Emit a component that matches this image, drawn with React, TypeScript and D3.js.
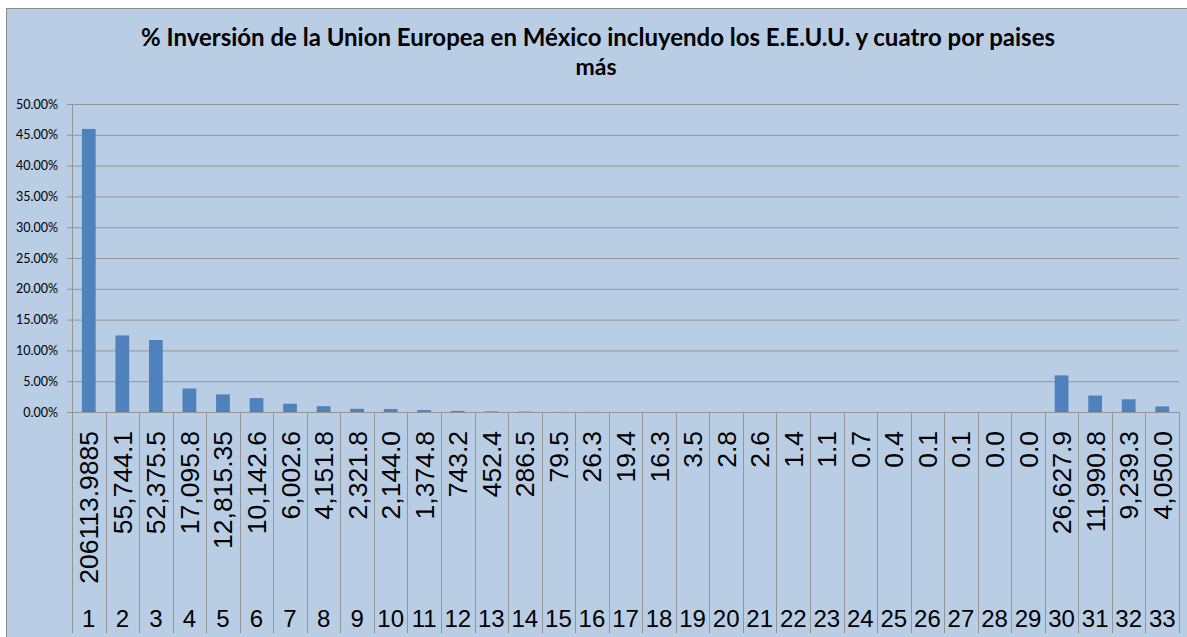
import * as d3 from "d3";

const categories = [
  "1", "2", "3", "4", "5", "6", "7", "8", "9", "10", "11", "12", "13", "14", "15", "16", "17",
  "18", "19", "20", "21", "22", "23", "24", "25", "26", "27", "28", "29", "30", "31", "32", "33",
];

// value printed under each bar
const valueLabels = [
  "206113.9885", "55,744.1", "52,375.5", "17,095.8", "12,815.35", "10,142.6", "6,002.6",
  "4,151.8", "2,321.8", "2,144.0", "1,374.8", "743.2", "452.4", "286.5", "79.5", "26.3",
  "19.4", "16.3", "3.5", "2.8", "2.6", "1.4", "1.1", "0.7", "0.4", "0.1", "0.1", "0.0",
  "0.0", "26,627.9", "11,990.8", "9,239.3", "4,050.0",
];

// bar heights (share)
const shares = [
  0.4595, 0.1243, 0.1168, 0.0381, 0.0286, 0.0226, 0.0134, 0.0093, 0.0052, 0.0048, 0.0031,
  0.0017, 0.001, 0.0006, 0.0002, 0.0001, 0, 0, 0, 0, 0, 0, 0, 0, 0, 0, 0, 0, 0, 0.0594,
  0.0267, 0.0206, 0.009,
];

const yTicks = [0, 0.05, 0.1, 0.15, 0.2, 0.25, 0.3, 0.35, 0.4, 0.45, 0.5];

const titleLines = [
  "% Inversión de la Union Europea en México incluyendo los E.E.U.U. y cuatro por paises",
  "más",
];

export default function App() {
  const width = 1187;
  const height = 637;
  const left = 72;
  const right = 1179;
  const top = 104;
  const bottom = 412;
  const catBottom = 633;

  const x = d3.scaleBand<string>().domain(categories).range([left, right]).padding(0);
  const y = d3.scaleLinear().domain([0, 0.5]).range([bottom, top]);
  const fmt = d3.format(".2%");
  const bw = x.bandwidth() * 0.41;
  const grid = "#959595";

  return (
    <svg
      width={width}
      height={height}
      style={{ position: "absolute", left: 0, top: 0, display: "block" }}
    >
      <rect x={0} y={0} width={width} height={height} fill="#ffffff" />
      <rect
        x={6.5}
        y={8.5}
        width={width + 20}
        height={height + 20}
        fill="#B9CDE5"
        stroke="#8c8c8c"
        strokeWidth={1}
      />

      {/* title */}
      <text
        x={598}
        y={46}
        textAnchor="middle"
        textLength={914}
        lengthAdjust="spacingAndGlyphs"
        style={{ fontFamily: "Lato", fontWeight: 700, fontSize: "24.5px", fill: "#000" }}
      >
        {titleLines[0]}
      </text>
      <text
        x={596}
        y={75}
        textAnchor="middle"
        style={{ fontFamily: "Lato", fontWeight: 700, fontSize: "23px", fill: "#000" }}
      >
        {titleLines[1]}
      </text>

      {/* gridlines + y ticks */}
      {yTicks.map((t) => (
        <g key={t}>
          <line x1={left} x2={right} y1={y(t) + 0.5} y2={y(t) + 0.5} stroke={grid} />
          <line x1={left - 5} x2={left} y1={y(t) + 0.5} y2={y(t) + 0.5} stroke={grid} />
          <text
            x={58}
            y={y(t) + 4.5}
            textAnchor="end"
            style={{ fontFamily: "Lato", fontSize: "12.5px", fill: "#000" }}
          >
            {fmt(t)}
          </text>
        </g>
      ))}
      <line x1={left + 0.5} x2={left + 0.5} y1={top} y2={bottom} stroke={grid} />

      {/* bars */}
      {categories.map((c, i) => {
        const cx = (x(c) ?? 0) + x.bandwidth() / 2;
        return (
          <rect
            key={c}
            x={cx - bw / 2}
            y={y(shares[i])}
            width={bw}
            height={bottom - y(shares[i])}
            fill="#4F81BD"
          />
        );
      })}

      {/* category separators */}
      {[...categories.map((c) => x(c) ?? 0), right].map((bx, i) => (
        <line
          key={i}
          x1={Math.round(bx) + 0.5}
          x2={Math.round(bx) + 0.5}
          y1={bottom}
          y2={catBottom}
          stroke={grid}
        />
      ))}

      {/* value labels + category numbers */}
      {categories.map((c, i) => {
        const cx = (x(c) ?? 0) + x.bandwidth() / 2;
        return (
          <g key={c}>
            <text
              transform={`translate(${cx + 9.5},431) rotate(-90)`}
              textAnchor="end"
              style={{ fontFamily: "Liberation Sans", fontSize: "26.5px", fill: "#000" }}
            >
              {valueLabels[i]}
            </text>
            <text
              x={cx}
              y={627}
              textAnchor="middle"
              style={{ fontFamily: "Liberation Sans", fontSize: "24px", fill: "#000" }}
            >
              {c}
            </text>
          </g>
        );
      })}
      <line x1={left} x2={right} y1={bottom + 0.5} y2={bottom + 0.5} stroke={grid} />
    </svg>
  );
}
